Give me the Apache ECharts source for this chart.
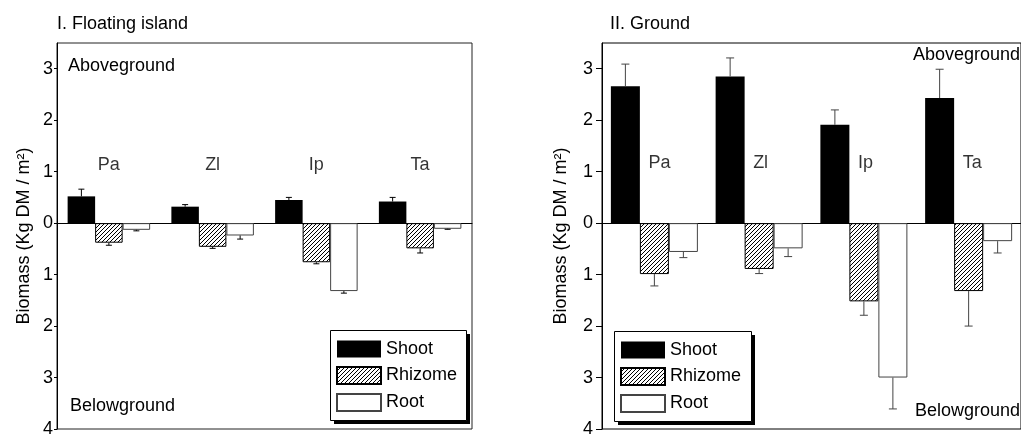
<!DOCTYPE html>
<html>
<head>
<meta charset="utf-8">
<script src="https://cdn.jsdelivr.net/npm/echarts@6/dist/echarts.min.js"></script>
<style>
  html, body { margin: 0; padding: 0; background: #fff; }
  #main { width: 1021px; height: 438px; }
</style>
</head>
<body>
<div id="main"></div>
<script>
var species = ['Pa', 'Zl', 'Ip', 'Ta'];
var parts = ['Shoot', 'Rhizome', 'Root'];
var yTicks = [-4, -3, -2, -1, 0, 1, 2, 3];

// I. Floating island (kg DM / m2), belowground parts as magnitudes
var islandShoot = [0.52, 0.32, 0.45, 0.42];
var islandShootSe = [0.14, 0.04, 0.05, 0.08];
var islandRhizome = [0.38, 0.46, 0.76, 0.49];
var islandRhizomeSe = [0.05, 0.03, 0.03, 0.09];
var islandRoot = [0.13, 0.24, 1.32, 0.11];
var islandRootSe = [0.02, 0.07, 0.04, 0.01];

// II. Ground
var groundShoot = [2.66, 2.85, 1.91, 2.43];
var groundShootSe = [0.43, 0.36, 0.29, 0.56];
var groundRhizome = [0.99, 0.89, 1.52, 1.32];
var groundRhizomeSe = [0.23, 0.09, 0.27, 0.68];
var groundRoot = [0.56, 0.49, 3.00, 0.35];
var groundRootSe = [0.11, 0.16, 0.61, 0.23];

var FONT = '"Liberation Sans", Arial, sans-serif';

// hatch pattern for rhizome
var hatch = document.createElement('canvas');
hatch.width = 4; hatch.height = 4;
var hc = hatch.getContext('2d');
hc.fillStyle = '#fff';
hc.fillRect(0, 0, 4, 4);
hc.strokeStyle = '#000';
hc.lineWidth = 1;
hc.beginPath();
hc.moveTo(0, 4); hc.lineTo(4, 0);
hc.moveTo(-1, 1); hc.lineTo(1, -1);
hc.moveTo(3, 5); hc.lineTo(5, 3);
hc.stroke();

var styles = [
  { color: '#000', borderColor: '#000', borderWidth: 0 },
  { color: { image: hatch, repeat: 'repeat' }, borderColor: '#000', borderWidth: 1 },
  { color: '#fff', borderColor: '#444', borderWidth: 1 }
];

var chart = echarts.init(document.getElementById('main'));

function neg(arr) { return arr.map(function (v) { return -v; }); }

function errSeries(gi, k, vals, se, sign, bw, capW, col) {
  var data = vals.map(function (v, i) { return [i, sign * v, sign * se[i]]; });
  return {
    type: 'custom',
    xAxisIndex: gi, yAxisIndex: gi,
    z: 5,
    silent: true,
    encode: { x: 0, y: 1 },
    data: data,
    renderItem: function (params, api) {
      var p0 = api.coord([api.value(0), api.value(1)]);
      var p1 = api.coord([api.value(0), api.value(1) + api.value(2)]);
      var x = p0[0] + (k - 1) * bw;
      var st = { stroke: col, lineWidth: 1 };
      return {
        type: 'group',
        children: [
          { type: 'line', shape: { x1: x, y1: p0[1], x2: x, y2: p1[1] }, style: st },
          { type: 'line', shape: { x1: x - capW, y1: p1[1], x2: x + capW, y2: p1[1] }, style: st }
        ]
      };
    }
  };
}

function barSeries(gi, k, data, bw) {
  return {
    name: parts[k],
    type: 'bar',
    xAxisIndex: gi, yAxisIndex: gi,
    barWidth: bw,
    barGap: '0%',
    itemStyle: styles[k],
    data: data
  };
}

function labelSeries(gi, yVal, pos, off) {
  return {
    type: 'scatter',
    xAxisIndex: gi, yAxisIndex: gi,
    symbolSize: 0,
    silent: true,
    data: species.map(function (s, i) { return [i, yVal]; }),
    label: {
      show: true, position: pos, offset: off, distance: 0,
      formatter: function (p) { return species[p.dataIndex]; },
      color: '#000', fontSize: 18, fontFamily: FONT
    }
  };
}

function yAxisOpt(gi, gap, tickLen, margin) {
  return {
    type: 'value', gridIndex: gi,
    min: -4, max: 3.5,
    name: 'Biomass (Kg DM / m\u00b2)',
    nameLocation: 'middle', nameGap: gap,
    nameTextStyle: { color: '#000', fontSize: 18, fontFamily: FONT },
    axisLine: { show: true, lineStyle: { color: '#000' } },
    axisTick: { show: true, length: tickLen, customValues: yTicks, lineStyle: { color: '#000' } },
    axisLabel: {
      customValues: yTicks, margin: margin,
      color: '#000', fontSize: 18, fontFamily: FONT,
      formatter: function (v) { return String(Math.abs(v)); }
    },
    splitLine: { show: false }
  };
}

function xAxisOpt(gi) {
  return {
    type: 'category', gridIndex: gi, data: species,
    axisLine: { onZero: true, lineStyle: { color: '#000' } },
    axisTick: { show: false },
    axisLabel: { show: false },
    splitLine: { show: false }
  };
}

function legendOpt(left, top) {
  return {
    data: parts,
    orient: 'vertical',
    left: left, top: top,
    icon: 'rect',
    itemWidth: 44, itemHeight: 17, itemGap: 8,
    padding: [10, 10, 10, 6],
    z: 10,
    selectedMode: false,
    textStyle: { color: '#000', fontSize: 18, fontFamily: FONT, lineHeight: 18 }
  };
}

// legend frame with a hard drop shadow
function legendBox(x, y, w, h) {
  return [
    { type: 'rect', left: x + 4, top: y + 4, z: 8, shape: { width: w, height: h }, style: { fill: '#000' } },
    { type: 'rect', left: x, top: y, z: 9, shape: { width: w, height: h }, style: { fill: '#fff', stroke: '#000', lineWidth: 1 } }
  ];
}

var bwL = 27.5, bwR = 29;

var option = {
  animation: false,
  backgroundColor: '#fff',
  title: [
    { text: 'I. Floating island', left: 52, top: 10, textStyle: { fontSize: 18, fontWeight: 'normal', color: '#000', fontFamily: FONT } },
    { text: 'II. Ground', left: 605, top: 10, textStyle: { fontSize: 18, fontWeight: 'normal', color: '#000', fontFamily: FONT } }
  ],
  grid: [
    { left: 57, top: 43, width: 415, height: 386, show: true, borderColor: '#222', borderWidth: 1, backgroundColor: 'transparent' },
    { left: 602, top: 43, width: 429, height: 394, show: true, borderColor: '#000', borderWidth: 1, backgroundColor: 'transparent' }
  ],
  xAxis: [xAxisOpt(0), xAxisOpt(1)],
  yAxis: [yAxisOpt(0, 24, 3, 4), yAxisOpt(1, 32, 6, 9)],
  legend: [legendOpt(330, 330), legendOpt(614, 331)],
  graphic: legendBox(330, 330, 136, 90).concat(legendBox(614, 331, 137, 90)).concat([
    { type: 'text', left: 68, top: 57, style: { text: 'Aboveground', fontSize: 18, fontFamily: FONT, fill: '#000' } },
    { type: 'text', left: 70, top: 397, style: { text: 'Belowground', fontSize: 18, fontFamily: FONT, fill: '#000' } },
    { type: 'text', left: 913, top: 46, style: { text: 'Aboveground', fontSize: 18, fontFamily: FONT, fill: '#000' } },
    { type: 'text', left: 915, top: 402, style: { text: 'Belowground', fontSize: 18, fontFamily: FONT, fill: '#000' } }
  ]),
  series: [
    barSeries(0, 0, islandShoot, bwL),
    barSeries(0, 1, neg(islandRhizome), bwL),
    barSeries(0, 2, neg(islandRoot), bwL),
    errSeries(0, 0, islandShoot, islandShootSe, 1, bwL, 3, '#000'),
    errSeries(0, 1, islandRhizome, islandRhizomeSe, -1, bwL, 3, '#000'),
    errSeries(0, 2, islandRoot, islandRootSe, -1, bwL, 3, '#000'),
    labelSeries(0, 1.13, 'inside', [0, 0]),

    barSeries(1, 0, groundShoot, bwR),
    barSeries(1, 1, neg(groundRhizome), bwR),
    barSeries(1, 2, neg(groundRoot), bwR),
    errSeries(1, 0, groundShoot, groundShootSe, 1, bwR, 4, '#444'),
    errSeries(1, 1, groundRhizome, groundRhizomeSe, -1, bwR, 4, '#444'),
    errSeries(1, 2, groundRoot, groundRootSe, -1, bwR, 4, '#444'),
    labelSeries(1, 1.16, 'right', [-6, 0])
  ]
};

chart.setOption(option);
</script>
</body>
</html>
